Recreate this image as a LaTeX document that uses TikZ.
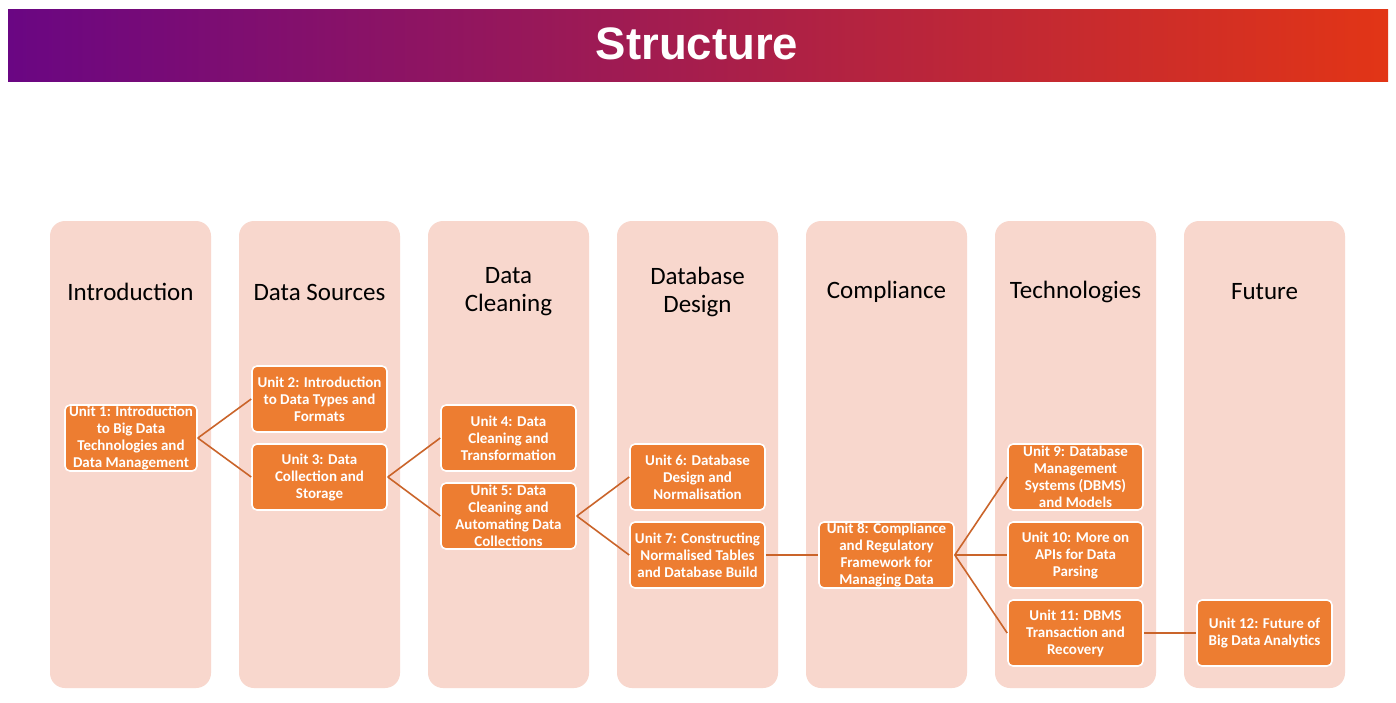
\documentclass[tikz,border=0pt]{standalone}
\usepackage{fontspec}
\setmainfont{Carlito}
\newfontfamily\titlefont{Liberation Sans}
\definecolor{colpink}{RGB}{248,215,205}
\definecolor{unitorange}{RGB}{237,125,49}
\definecolor{linkorange}{RGB}{202,100,42}
\definecolor{gradleft}{RGB}{106,6,131}
\definecolor{gradright}{RGB}{226,53,22}
\begin{document}
\begin{tikzpicture}[x=1pt,y=-1pt,
  column/.style={fill=colpink, rounded corners=15pt},
  header/.style={align=center, font=\fontsize{25}{28}\selectfont, text=black, inner sep=0pt},
  unit/.style={fill=unitorange, draw=white, line width=1.6pt, rounded corners=5pt,
    minimum width=135pt, minimum height=66pt, inner sep=0pt, align=center,
    text=white, font=\bfseries\fontsize{15}{17}\selectfont},
  link/.style={draw=linkorange, line width=1.6pt}]
\useasboundingbox (0,0) rectangle (1396,702);
\fill[white] (0,0) rectangle (1396,702);
% title bar
\shade[left color=gradleft, right color=gradright] (8,9) rectangle (1388,81);
\node[text=white, font=\titlefont\bfseries\fontsize{45.5}{50}\selectfont, inner sep=0pt] (title) at (697,44) {Structure};
% columns
\foreach \cx in {130.5,319.5,508.5,697.5,886.5,1075.5,1264.5}{
  \fill[column] (\cx-80.5,221) rectangle (\cx+80.5,688);
}
\node[header] (h1) at (130.5,292) {Introduction};
\node[header] (h2) at (319.5,292) {Data Sources};
\node[header] (h3) at (508.5,292) {Data\\Cleaning};
\node[header] (h4) at (697.5,292) {Database\\Design};
\node[header] (h5) at (886.5,292) {Compliance};
\node[header] (h6) at (1075.5,292) {Technologies};
\node[header] (h7) at (1264.5,292) {Future};
% units
\node[unit, minimum width=132pt] (u1) at (131,438) {Unit 1: Introduction\\to Big Data\\Technologies and\\Data Management};
\node[unit] (u2) at (319.5,399) {Unit 2: Introduction\\to Data Types and\\Formats};
\node[unit] (u3) at (319.5,477) {Unit 3: Data\\Collection and\\Storage};
\node[unit] (u4) at (508.5,438) {Unit 4: Data\\Cleaning and\\Transformation};
\node[unit] (u5) at (508.5,516) {Unit 5: Data\\Cleaning and\\Automating Data\\Collections};
\node[unit] (u6) at (697.5,477) {Unit 6: Database\\Design and\\Normalisation};
\node[unit] (u7) at (697.5,555) {Unit 7: Constructing\\Normalised Tables\\and Database Build};
\node[unit] (u8) at (886.5,555) {Unit 8: Compliance\\and Regulatory\\Framework for\\Managing Data};
\node[unit] (u9) at (1075.5,477) {Unit 9: Database\\Management\\Systems (DBMS)\\and Models};
\node[unit] (u10) at (1075.5,555) {Unit 10: More on\\APIs for Data\\Parsing};
\node[unit] (u11) at (1075.5,633) {Unit 11: DBMS\\Transaction and\\Recovery};
\node[unit] (u12) at (1264.5,633) {Unit 12: Future of\\Big Data Analytics};
% links
\draw[link] (u1.east) -- (u2.west);
\draw[link] (u1.east) -- (u3.west);
\draw[link] (u3.east) -- (u4.west);
\draw[link] (u3.east) -- (u5.west);
\draw[link] (u5.east) -- (u6.west);
\draw[link] (u5.east) -- (u7.west);
\draw[link] (u7.east) -- (u8.west);
\draw[link] (u8.east) -- (u9.west);
\draw[link] (u8.east) -- (u10.west);
\draw[link] (u8.east) -- (u11.west);
\draw[link] (u11.east) -- (u12.west);
\end{tikzpicture}
\end{document}
